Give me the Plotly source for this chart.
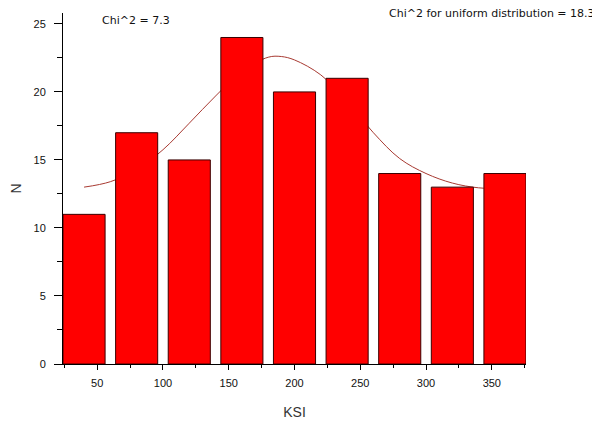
import plotly.graph_objects as go

# Data
ksi_centers = [40, 80, 120, 160, 200, 240, 280, 320, 360]
counts = [11, 17, 15, 24, 20, 21, 14, 13, 14]

curve_x = [40, 60, 80, 100, 120, 140, 160, 180, 190, 200, 220, 240, 260, 280, 300, 320, 340, 360]
curve_y = [13.0, 13.4, 14.3, 15.75, 17.7, 19.7, 21.5, 22.55, 22.6, 22.35, 21.25, 19.3, 17.0, 15.1, 14.0, 13.3, 12.95, 12.9]

x_ticks = [50, 100, 150, 200, 250, 300, 350]
y_ticks = [0, 5, 10, 15, 20, 25]

chi_text = "Chi^2 = 7.3"
chi_uniform_text = "Chi^2 for uniform distribution = 18.3"

XR = [24, 376]
YR = [0, 25.8]

# the page body adds an 8px offset, so margins are reduced by 8
ML, MT = 55, 5
PW, PH = 463, 351

fig = go.Figure()

# smooth curve (drawn underneath the bars)
fig.add_trace(go.Scatter(
    x=curve_x, y=curve_y, mode="lines",
    line=dict(color="#a83a32", width=1, shape="spline"),
    xaxis="x", yaxis="y", showlegend=False, hoverinfo="skip",
))

# bars on overlaid axes so they sit above the curve
fig.add_trace(go.Bar(
    x=ksi_centers, y=counts, width=32,
    marker=dict(color="#ff0000", line=dict(color="#3a0000", width=1)),
    xaxis="x2", yaxis="y2", showlegend=False,
))

axis_font = dict(family="Arial, Liberation Sans, sans-serif", size=11, color="#111111")
note_font = dict(family="DejaVu Sans, sans-serif", size=11, color="#111111")

fig.update_layout(
    width=600, height=423,
    margin=dict(l=ML, r=600 - ML - PW, t=MT, b=423 - MT - PH, autoexpand=False),
    paper_bgcolor="white", plot_bgcolor="white",
    xaxis=dict(
        range=XR, tickmode="array", tickvals=x_ticks, ticktext=[str(v) for v in x_ticks],
        showgrid=False, zeroline=False, showline=True, linecolor="#000000", linewidth=1,
        ticks="outside", ticklen=5, tickwidth=1, tickcolor="#000000",
        minor=dict(tickmode="linear", tick0=25, dtick=25, ticks="outside", ticklen=3,
                   tickcolor="#000000", showgrid=False),
        tickfont=axis_font, ticklabelstandoff=4, automargin=False,
        title=dict(text="KSI", font=dict(family="Arial, Liberation Sans, sans-serif", size=14, color="#333333"), standoff=18),
    ),
    yaxis=dict(
        range=YR, tickmode="array", tickvals=y_ticks, ticktext=[str(v) for v in y_ticks],
        showgrid=False, zeroline=False, showline=True, linecolor="#000000", linewidth=1,
        ticks="outside", ticklen=8, tickwidth=1, tickcolor="#000000",
        minor=dict(tickmode="linear", tick0=0, dtick=2.5, ticks="outside", ticklen=5,
                   tickcolor="#000000", showgrid=False),
        tickfont=axis_font, ticklabelstandoff=6, automargin=False,
        title=dict(text="N", font=dict(family="Arial, Liberation Sans, sans-serif", size=14, color="#333333"), standoff=11),
    ),
    xaxis2=dict(range=XR, overlaying="x", visible=False),
    yaxis2=dict(range=YR, overlaying="y", visible=False),
    annotations=[
        dict(text=chi_text, xref="paper", yref="paper", x=(100 - 63) / PW, y=1 + (13 - 20) / PH,
             xanchor="left", yanchor="middle", showarrow=False, font=note_font),
        dict(text=chi_uniform_text, xref="paper", yref="paper", x=(597 - 63) / PW, y=1 + (13 - 13.5) / PH,
             xanchor="right", yanchor="middle", showarrow=False, font=note_font),
    ],
)

fig.write_html("out.html")
